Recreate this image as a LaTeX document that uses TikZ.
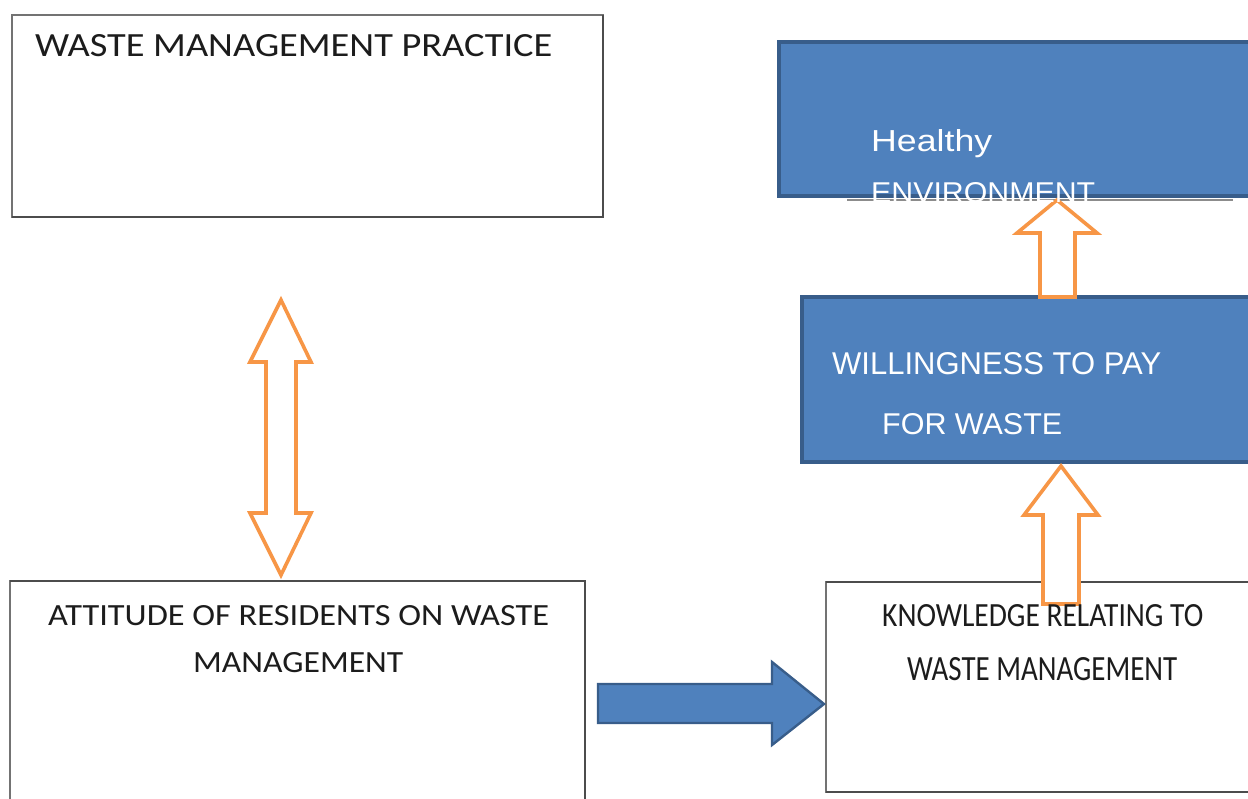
\documentclass[tikz,border=0pt]{standalone}
\usepackage{fontspec}
\usepackage{graphicx}
\newfontfamily\bodyfont{Carlito}
\newfontfamily\boxfont{Liberation Sans}
\definecolor{boxblue}{HTML}{4F81BD}
\definecolor{boxblueedge}{HTML}{385D8A}
\definecolor{flow}{HTML}{F79646}
\definecolor{inkdark}{HTML}{1C1C1C}
% a line of text stretched to a given width and cap height (in px = pt)
\newcommand{\fitline}[3]{\resizebox{#1pt}{#2pt}{#3}}
\tikzset{
  panel/.style={draw=black!55, line width=1.3pt, fill=white},
  panelshadow/.style={draw=black!70, line width=1.6pt},
  bluepanel/.style={draw=boxblueedge, line width=3.5pt, fill=boxblue},
  flowarrow/.style={draw=flow, line width=3.6pt, fill=white, line join=miter},
  bluearrow/.style={draw=boxblueedge, line width=2.4pt, fill=boxblue, line join=miter},
  darktext/.style={anchor=base west, inner sep=0pt, text=inkdark, font=\bodyfont},
  lighttext/.style={anchor=base west, inner sep=0pt, text=white, font=\boxfont},
}
\begin{document}
\begin{tikzpicture}[x=1pt, y=-1pt]
\useasboundingbox (0,0) rectangle (1248,799);
\fill[white] (0,0) rectangle (1248,799);

% ---- outlined boxes ----
\draw[panel] (12,15) rectangle (603,217);
\draw[panelshadow] (603,15) -- (603,217) -- (12,217);
\node[inner sep=0pt, minimum width=591pt, minimum height=202pt] (practice) at (307.5,116) {};

\draw[panel] (10,581) rectangle (585,815);
\draw[panelshadow] (10,581) -- (585,581) -- (585,815);
\node[inner sep=0pt, minimum width=575pt, minimum height=218pt] (attitude) at (297.5,690) {};

\draw[panel] (826,582) rectangle (1260,792);
\draw[panelshadow] (826,582) -- (1260,582);
\draw[panelshadow] (826,792) -- (1260,792);
\node[inner sep=0pt, minimum width=422pt, minimum height=210pt] (knowledge) at (1037,687) {};

% ---- filled boxes ----
\draw[bluepanel] (779,42) rectangle (1262,196);
\draw[black!45, line width=2.4pt] (847,200) -- (1233,200);
\node[inner sep=0pt, minimum width=469pt, minimum height=154pt] (health) at (1013.5,119) {};

\draw[bluepanel] (802,297) rectangle (1262,462);
\node[inner sep=0pt, minimum width=446pt, minimum height=165pt] (willing) at (1025,379.5) {};

% ---- block arrows ----
% willingness -> healthy environment
\coordinate (envtip) at (1057,200);
\draw[flowarrow] (envtip) -- (1097,233) -- (1075,233) -- (1075,297)
  -- (1040,297) -- (1040,233) -- (1017,233) -- cycle;

% knowledge -> willingness
\coordinate (paytip) at (1061,466);
\draw[flowarrow] (paytip) -- (1098,515) -- (1079,515) -- (1079,604)
  -- (1043,604) -- (1043,515) -- (1024,515) -- cycle;

% practice <-> attitude
\coordinate (uptip) at (281,300);
\coordinate (downtip) at (281,575);
\draw[flowarrow] (uptip) -- (311,362) -- (296,362) -- (296,513) -- (311,513)
  -- (downtip) -- (250,513) -- (266,513) -- (266,362) -- (250,362) -- cycle;

% attitude -> knowledge
\coordinate (righttip) at (824,704);
\draw[bluearrow] (598,684) -- (772,684) -- (772,662) -- (righttip)
  -- (772,745) -- (772,723) -- (598,723) -- cycle;

% ---- labels ----
\node[darktext] (tpractice) at (35,57) {\fitline{517}{22}{WASTE MANAGEMENT PRACTICE}};
\node[darktext] (tatt1) at (48,625) {\fitline{501}{20}{ATTITUDE OF RESIDENTS ON WASTE}};
\node[darktext] (tatt2) at (193,672) {\fitline{210}{20}{MANAGEMENT}};
\node[darktext] (tknow1) at (882,626) {\fitline{321}{22}{KNOWLEDGE RELATING TO}};
\node[darktext] (tknow2) at (907,680) {\fitline{270}{23}{WASTE MANAGEMENT}};

\node[lighttext] (thealth1) at (871,152) {\fitline{121}{22}{Healthy}};
\node[lighttext] (thealth2) at (871,203) {\fitline{224}{20}{ENVIRONMENT}};
\node[lighttext] (twill1) at (832,375) {\fitline{329}{22}{WILLINGNESS TO PAY}};
\node[lighttext] (twill2) at (882,435) {\fitline{180}{21}{FOR WASTE}};
\end{tikzpicture}
\end{document}
